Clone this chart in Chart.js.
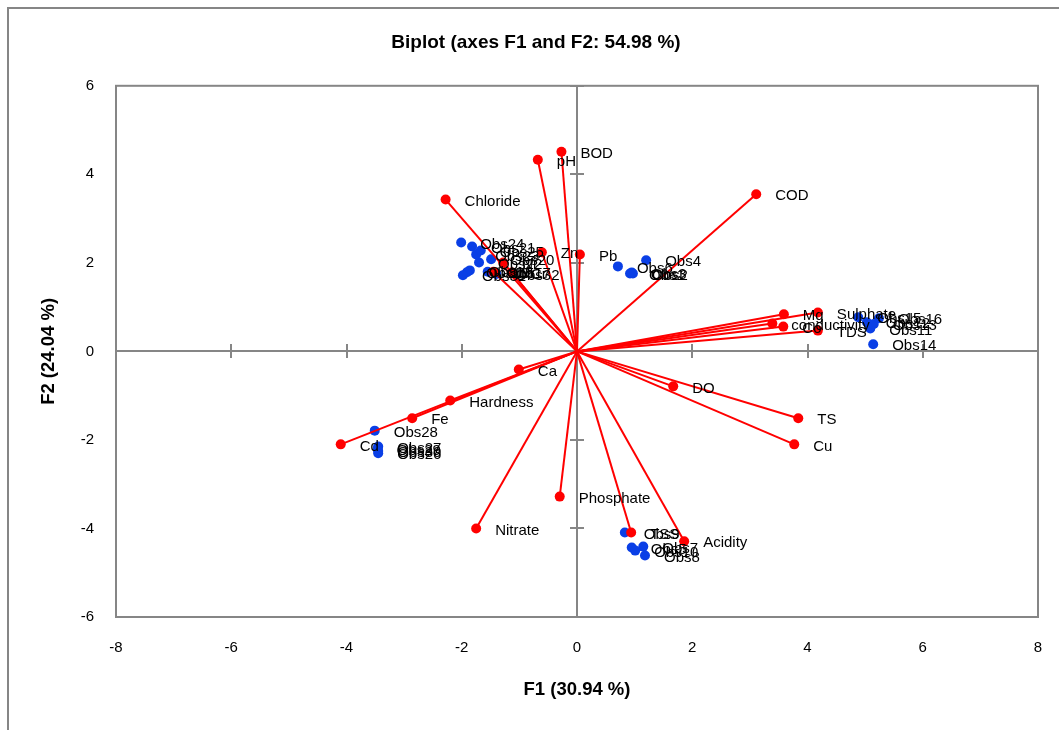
<!DOCTYPE html>
<html><head><meta charset="utf-8">
<script src="https://cdn.jsdelivr.net/npm/chart.js@4.4.0/dist/chart.umd.min.js"></script>
<style>html,body{margin:0;padding:0;background:#fff;overflow:hidden;}</style>
</head><body>
<canvas id="c" width="1059" height="730"></canvas>
<script>
const titleText = 'Biplot (axes F1 and F2: 54.98 %)';
const xAxisTitle = 'F1 (30.94 %)';
const yAxisTitle = 'F2 (24.04 %)';
const xTicks = [-8, -6, -4, -2, 0, 2, 4, 6, 8];
const yTicks = [-6, -4, -2, 0, 2, 4, 6];

const varNames = ['BOD','pH','Chloride','COD','Zn','Pb','Cr','Ni','Mn','Mg','Sulphate','conductivity','Co','TDS','DO','TS','Cu','Acidity','TSS','Phosphate','Nitrate','Ca','Hardness','Fe','Cd'];
const varX = [-0.27,-0.68,-2.28,3.11,-0.61,0.05,-1.13,-1.28,-1.45,3.59,4.18,3.39,3.58,4.18,1.67,3.84,3.77,1.86,0.94,-0.30,-1.75,-1.01,-2.20,-2.86,-4.10];
const varY = [4.51,4.33,3.43,3.55,2.24,2.19,1.78,2.01,1.80,0.84,0.88,0.63,0.56,0.47,-0.79,-1.51,-2.10,-4.29,-4.09,-3.28,-4.00,-0.41,-1.11,-1.51,-2.10];

const obsNames = ['Obs1','Obs2','Obs3','Obs4','Obs5','Obs6','Obs7','Obs8','Obs9','Obs10','Obs11','Obs12','Obs13','Obs14','Obs15','Obs16','Obs17','Obs18','Obs19','Obs20','Obs21','Obs22','Obs23','Obs24','Obs25','Obs26','Obs27','Obs28','Obs29','Obs30','Obs31','Obs32'];
const obsX = [0.92,0.97,0.95,1.20,0.95,0.71,1.15,1.18,0.83,1.01,5.09,5.03,5.15,5.14,4.88,5.24,-1.55,-1.86,-1.91,-1.49,-1.82,-1.70,-1.75,-2.01,-1.67,-3.45,-3.45,-3.51,-3.46,-3.45,-1.98,-1.40];
const obsY = [1.76,1.76,1.78,2.06,-4.43,1.92,-4.41,-4.61,-4.09,-4.50,0.52,0.66,0.62,0.16,0.77,0.75,1.80,1.83,1.79,2.08,2.37,2.01,2.19,2.46,2.28,-2.30,-2.15,-1.79,-2.20,-2.25,1.72,1.75];

const FONT = "'Liberation Sans', Arial, sans-serif";
const RED = '#FF0000';
const BLUE = '#0A3FE6';
const GRAY = '#868686';

const datasets = [];
datasets.push({
  label: 'Observations',
  data: obsX.map((x, i) => ({x: x, y: obsY[i]})),
  backgroundColor: BLUE, borderColor: BLUE, pointRadius: 5, pointBorderWidth: 0,
  order: 3, _labels: obsNames
});
varNames.forEach((n, i) => {
  datasets.push({
    label: n + ' vector', showLine: true,
    data: [{x: 0, y: 0}, {x: varX[i], y: varY[i]}],
    borderColor: RED, borderWidth: 2, pointRadius: 0, order: 2
  });
});
datasets.push({
  label: 'Variables',
  data: varX.map((x, i) => ({x: x, y: varY[i]})),
  backgroundColor: RED, borderColor: RED, pointRadius: 5, pointBorderWidth: 0,
  order: 1, _labels: varNames
});

const framePlugin = {
  id: 'frame',
  beforeDraw(chart) {
    const ctx = chart.ctx;
    ctx.save();
    ctx.fillStyle = '#fff';
    ctx.fillRect(0, 0, chart.width, chart.height);
    ctx.strokeStyle = GRAY; ctx.lineWidth = 2;
    ctx.beginPath();
    ctx.moveTo(8, chart.height); ctx.lineTo(8, 8); ctx.lineTo(chart.width, 8);
    ctx.stroke();
    ctx.restore();
  },
  beforeDatasetsDraw(chart) {
    const ctx = chart.ctx, a = chart.chartArea;
    const xs = chart.scales.x, ys = chart.scales.y;
    const x0 = Math.round(xs.getPixelForValue(0)), y0 = Math.round(ys.getPixelForValue(0));
    ctx.save();
    ctx.strokeStyle = GRAY; ctx.lineWidth = 2;
    ctx.strokeRect(a.left, a.top, a.right - a.left, a.bottom - a.top);
    ctx.beginPath();
    ctx.moveTo(a.left, y0); ctx.lineTo(a.right, y0);
    ctx.moveTo(x0, a.top); ctx.lineTo(x0, a.bottom);
    xTicks.forEach(v => { if (v !== 0) { const p = Math.round(xs.getPixelForValue(v)); ctx.moveTo(p, y0 - 7); ctx.lineTo(p, y0 + 7); } });
    yTicks.forEach(v => { if (v !== 0) { const p = Math.round(ys.getPixelForValue(v)); ctx.moveTo(x0 - 7, p); ctx.lineTo(x0 + 7, p); } });
    ctx.stroke();
    ctx.restore();
  },
  afterDatasetsDraw(chart) {
    const ctx = chart.ctx;
    ctx.save();
    ctx.font = '15px ' + FONT;
    ctx.fillStyle = '#000';
    ctx.textAlign = 'left'; ctx.textBaseline = 'middle';
    chart.data.datasets.forEach((ds, di) => {
      if (!ds._labels) return;
      const meta = chart.getDatasetMeta(di);
      meta.data.forEach((pt, i) => {
        ctx.fillText(ds._labels[i], pt.x + 19, pt.y + 2);
      });
    });
    ctx.restore();
  }
};

new Chart(document.getElementById('c'), {
  type: 'scatter',
  data: { datasets: datasets },
  options: {
    responsive: false, animation: false, devicePixelRatio: 1,
    layout: { padding: { top: 0, left: 34, right: 21, bottom: 25 } },
    plugins: {
      legend: { display: false }, tooltip: { enabled: false },
      title: { display: true, text: titleText, color: '#000',
        font: { family: FONT, size: 19, weight: 'bold' }, padding: { top: 31, bottom: 32 } }
    },
    scales: {
      x: {
        type: 'linear', min: -8, max: 8,
        afterBuildTicks: s => { s.ticks = xTicks.map(v => ({value: v})); },
        afterFit: s => { s.height = 88; s.paddingLeft = 0; s.paddingRight = 0; },
        grid: { display: false, drawTicks: false }, border: { display: false },
        ticks: { color: '#000', font: { family: FONT, size: 15 }, padding: 22 },
        title: { display: true, text: xAxisTitle, color: '#000', font: { family: FONT, size: 18.5, weight: 'bold' } }
      },
      y: {
        type: 'linear', min: -6, max: 6,
        afterBuildTicks: s => { s.ticks = yTicks.map(v => ({value: v})); },
        afterFit: s => { s.width = 82; s.paddingTop = 0; s.paddingBottom = 0; },
        grid: { display: false, drawTicks: false }, border: { display: false },
        ticks: { color: '#000', font: { family: FONT, size: 15 }, padding: 22 },
        title: { display: true, text: yAxisTitle, color: '#000', font: { family: FONT, size: 18.5, weight: 'bold' } }
      }
    }
  },
  plugins: [framePlugin]
});
</script>
</body></html>
